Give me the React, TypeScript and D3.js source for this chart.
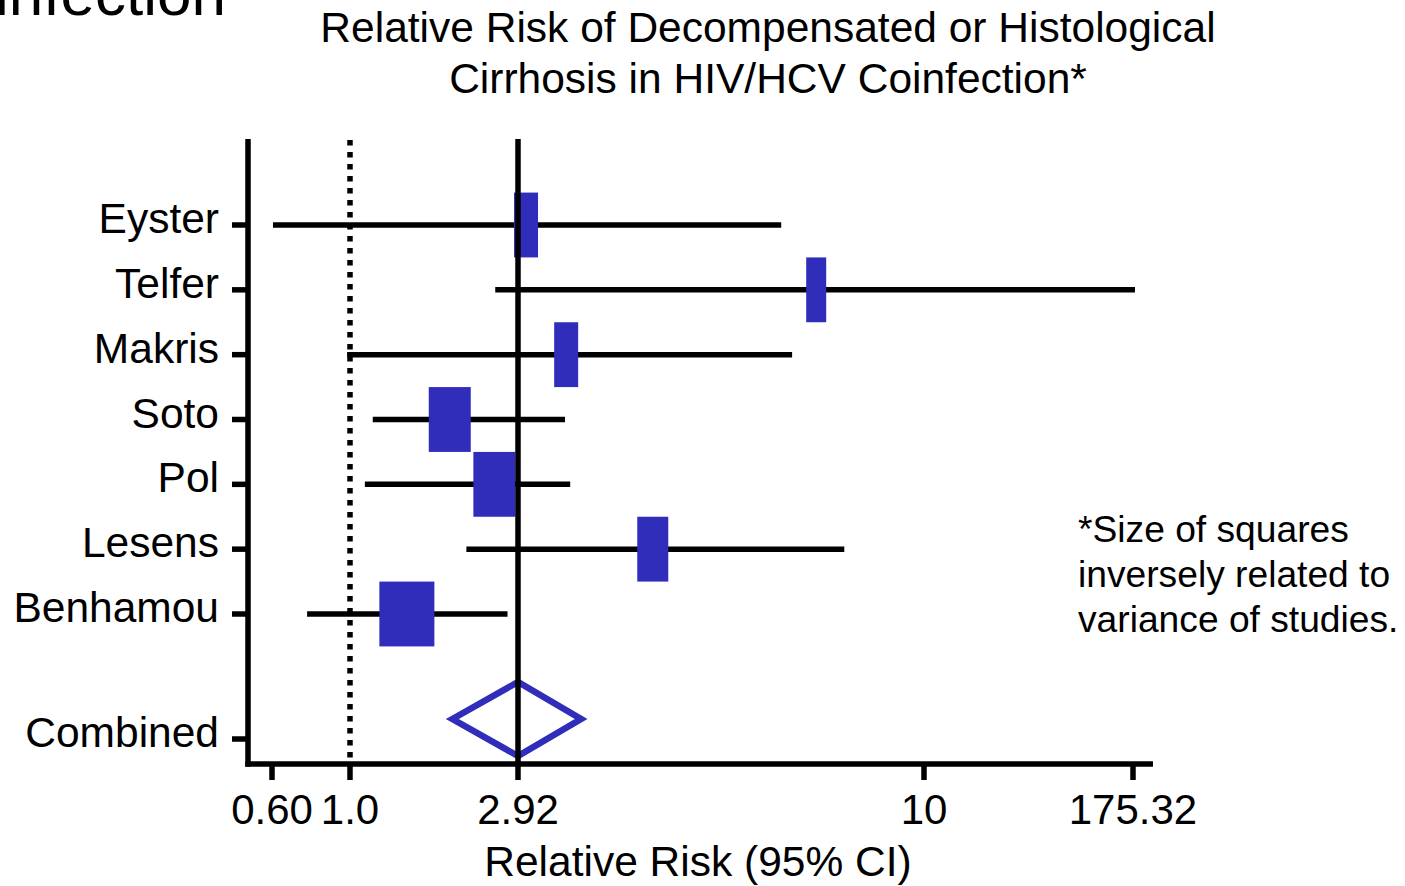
import React from "react";
import * as d3 from "d3";

// ---- data ----
const studies = ["Eyster", "Telfer", "Makris", "Soto", "Pol", "Lesens", "Benhamou"];
const estimates = [3.06, 8.12, 3.76, 2.14, 2.65, 5.27, 1.65];
const lowerCI = [0.605, 2.66, 0.985, 1.26, 1.17, 2.33, 0.78];
const upperCI = [7.51, 176.9, 7.7, 3.74, 3.83, 8.61, 2.8];
const weights = [2.4, 2.0, 2.4, 4.2, 4.2, 3.1, 5.5];
const combinedLabel = "Combined";
const combinedEstimate = 2.92;
const combinedLower = 2.17;
const combinedUpper = 4.02;
const nullValue = 1.0;
const xTickValues = [0.6, 1.0, 2.92, 10, 175.32];
const xTickLabels = ["0.60", "1.0", "2.92", "10", "175.32"];
const titleLines = ["Relative Risk of Decompensated or Histological", "Cirrhosis in HIV/HCV Coinfection*"];
const noteLines = ["*Size of squares", "inversely related to", "variance of studies."];
const xAxisTitle = "Relative Risk (95% CI)";
const cutTitle = "HIV/HCV Coinfection";

const FONT = "'Liberation Sans', Arial, Helvetica, sans-serif";
const BLUE = "#2f2db9";

export default function App() {
  const W = 1405, H = 886;
  const axisX = 248, axisTop = 139, axisBottom = 764, axisRight = 1153;
  const x = d3.scaleLinear<number>().domain(xTickValues).range([272, 350, 518, 924, 1133]);
  const y = d3.scalePoint<string>().domain(studies).range([225, 614]);
  const step = y.step();
  const yCombined = (y(studies[studies.length - 1]) as number) + 125;
  const w = d3.scaleLinear().domain([0, 1]).range([0, 10]);
  const sw = 5.5;

  const diamondCY = yCombined - 20;
  const diamondH = 37;
  const diamond = d3.line()([
    [x(combinedLower), diamondCY],
    [x(combinedEstimate), diamondCY - diamondH],
    [x(combinedUpper), diamondCY],
    [x(combinedEstimate), diamondCY + diamondH],
  ]) + "Z";

  return (
    <svg width={W} height={H} style={{ position: "absolute", left: 0, top: 0, background: "#fff" }} fontFamily={FONT}>
      <rect width={W} height={H} fill="#fff" />
      {/* cut-off slide title */}
      <text x={226} y={15} fontSize={62} textAnchor="end" fill="#000">{cutTitle}</text>
      {/* title */}
      {titleLines.map((t, i) => (
        <text key={i} x={768} y={42 + i * 51} fontSize={42.5} textAnchor="middle" fill="#000">{t}</text>
      ))}

      {/* CI lines */}
      {studies.map((s, i) => (
        <line key={"ci" + s} x1={x(lowerCI[i])} x2={x(upperCI[i])} y1={y(s)} y2={y(s)} stroke="#000" strokeWidth={sw} />
      ))}
      {/* squares */}
      {studies.map((s, i) => (
        <rect key={"sq" + s} x={x(estimates[i]) - w(weights[i]) / 2} y={(y(s) as number) - step / 2}
          width={w(weights[i])} height={step} fill={BLUE} />
      ))}
      {/* diamond */}
      <path d={diamond} fill="none" stroke={BLUE} strokeWidth={6.5} strokeLinejoin="miter" />

      {/* null line dotted */}
      <line x1={x(nullValue)} x2={x(nullValue)} y1={axisTop + 1} y2={axisBottom} stroke="#000" strokeWidth={sw} strokeDasharray="5.5,6.5" />
      {/* combined estimate line */}
      <line x1={x(combinedEstimate)} x2={x(combinedEstimate)} y1={axisTop} y2={axisBottom} stroke="#000" strokeWidth={sw} />

      {/* y axis */}
      <line x1={axisX} x2={axisX} y1={axisTop} y2={axisBottom + sw / 2} stroke="#000" strokeWidth={sw} />
      {[...studies, combinedLabel].map((s, i) => {
        const yy = i < studies.length ? (y(s) as number) : yCombined;
        return (
          <g key={"yt" + s}>
            <line x1={232} x2={axisX} y1={yy} y2={yy} stroke="#000" strokeWidth={sw} />
            <text x={219} y={yy + 8} fontSize={42.5} textAnchor="end" fill="#000">{s}</text>
          </g>
        );
      })}

      {/* x axis */}
      <line x1={axisX - sw / 2} x2={axisRight} y1={axisBottom} y2={axisBottom} stroke="#000" strokeWidth={sw} />
      {xTickValues.map((v, i) => (
        <g key={"xt" + i}>
          <line x1={x(v)} x2={x(v)} y1={axisBottom} y2={axisBottom + 16} stroke="#000" strokeWidth={sw} />
          <text x={x(v)} y={824} fontSize={42} textAnchor="middle" fill="#000">{xTickLabels[i]}</text>
        </g>
      ))}
      <text x={698} y={876} fontSize={42.5} textAnchor="middle" fill="#000">{xAxisTitle}</text>

      {/* note */}
      {noteLines.map((t, i) => (
        <text key={"n" + i} x={1078} y={542 + i * 45} fontSize={37.2} fill="#000">{t}</text>
      ))}
    </svg>
  );
}
